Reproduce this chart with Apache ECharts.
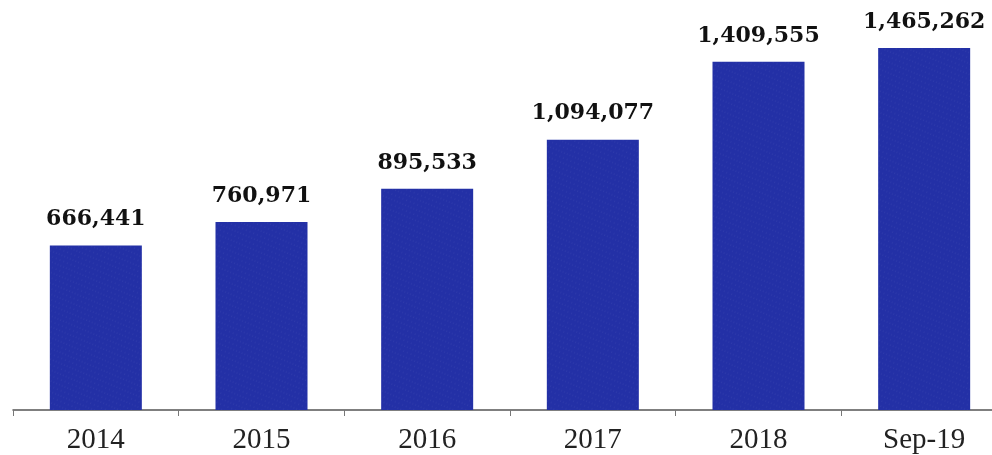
<!DOCTYPE html>
<html>
<head>
<meta charset="utf-8">
<script src="https://cdn.jsdelivr.net/npm/echarts@6/dist/echarts.min.js"></script>
<style>
html, body { margin: 0; padding: 0; background: #fff; }
#chart { width: 992px; height: 455px; }
</style>
</head>
<body>
<div id="chart"></div>
<script>
var categories = ['2014', '2015', '2016', '2017', '2018', 'Sep-19'];
var values = [666441, 760971, 895533, 1094077, 1409555, 1465262];

var chart = echarts.init(document.getElementById('chart'));
var option = {
    animation: false,
    grid: {
        left: 13,
        width: 994,
        top: 0,
        bottom: 45,
        outerBoundsMode: 'none',
        containLabel: false
    },
    xAxis: {
        type: 'category',
        data: categories,
        axisLine: { lineStyle: { color: '#555', width: 1.5 } },
        axisTick: { show: true, length: 6, inside: false, lineStyle: { color: '#777' } },
        axisLabel: {
            color: '#222',
            fontFamily: 'Liberation Serif',
            fontSize: 29,
            margin: 16
        }
    },
    yAxis: {
        type: 'value',
        min: 0,
        max: 1660000,
        show: false
    },
    series: [{
        type: 'bar',
        data: values,
        barWidth: 92,
        itemStyle: {
            color: '#2330a6',
            decal: {
                symbol: 'circle',
                symbolSize: 0.6,
                color: 'rgba(255,255,255,0.35)',
                dashArrayX: [[1, 3], [1, 2]],
                dashArrayY: [2, 3],
                rotation: 0.4
            }
        },
        label: {
            show: true,
            position: 'top',
            distance: 15,
            color: '#111',
            fontFamily: 'DejaVu Serif',
            fontWeight: 'bold',
            fontSize: 22,
            formatter: function (p) {
                return p.value.toLocaleString('en-US');
            }
        }
    }]
};
chart.setOption(option);
</script>
</body>
</html>
